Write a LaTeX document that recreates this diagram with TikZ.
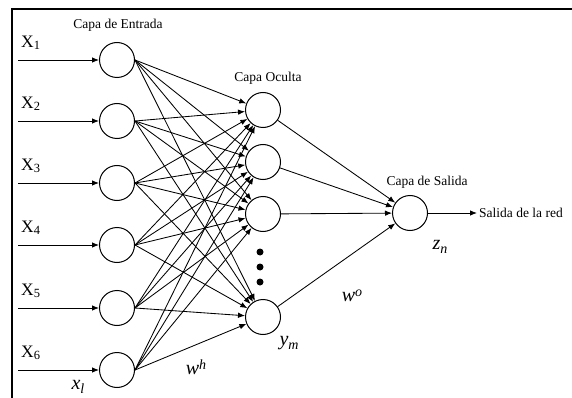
\documentclass[tikz,border=0pt]{standalone}
\usepackage{fontspec}
\setmainfont{Liberation Serif}
\usetikzlibrary{arrows.meta}
\newcommand{\Xlab}[1]{\fontsize{17.5}{18}\selectfont X\raisebox{-2.5pt}{\fontsize{12.5}{12}\selectfont #1}}
\newcommand{\itsub}[2]{\fontsize{20}{20}\selectfont\textit{#1}\raisebox{-4.5pt}{\fontsize{14}{14}\selectfont\textit{#2}}}
\newcommand{\itsup}[2]{\fontsize{20}{20}\selectfont\textit{#1}\raisebox{5.5pt}{\fontsize{14}{14}\selectfont\textit{#2}}}
\begin{document}
\begin{tikzpicture}[x=1pt,y=-1pt,
  neuron/.style={circle,draw,line width=1pt,minimum size=35pt,inner sep=0pt},
  conn/.style={line width=0.85pt,-{Latex[length=7pt,width=5.5pt]}},
  layerlab/.style={font=\fontsize{13.5}{15}\selectfont},
  every node/.style={inner sep=0pt}]
\useasboundingbox (0,0) rectangle (572,398);
\draw[line width=2.5pt] (12,398) -- (12,9) -- (572,9);
% input layer
\foreach \i/\y in {1/60,2/121,3/183,4/245,5/308,6/370}{
  \node[neuron] (in\i) at (117,\y) {};
  \coordinate (s\i) at (18,\y);
  \draw[conn] (s\i) -- (in\i);
  \node[anchor=west] (lx\i) at (21,\y-17) {\Xlab{\i}};
}
% hidden layer
\foreach \j/\y in {1/110,2/162,3/214,4/317}{
  \node[neuron] (h\j) at (263,\y) {};
}
\foreach \k/\y in {1/252,2/267,3/282}{
  \node[circle,fill,minimum size=7pt] (dot\k) at (260,\y) {};
}
% output
\node[neuron] (out) at (410,213) {};
% input -> hidden
\foreach \i in {1,...,6}{
  \foreach \j in {1,...,4}{
    \draw[conn] (in\i.east) -- (h\j);
  }
}
% hidden -> output
\foreach \j in {1,...,4}{
  \draw[conn] (h\j) -- (out);
}
\coordinate (oend) at (477,213);
\draw[conn] (out.east) -- (oend);
\node[anchor=west,font=\fontsize{13.5}{15}\selectfont] (outlab) at (479,213) {Salida de la red};
% layer labels
\node[layerlab] (capain) at (118,25) {Capa de Entrada};
\node[layerlab] (capahid) at (268,78) {Capa Oculta};
\node[layerlab] (capaout) at (427,182) {Capa de Salida};
% symbols
\node (xl) at (78,387) {\itsub{x}{l}};
\node (ym) at (289,343) {\itsub{y}{m}};
\node (zn) at (440,247) {\itsub{z}{n}};
\node (wh) at (196,367) {\itsup{w}{h}};
\node (wo) at (352,296) {\itsup{w}{o}};
\end{tikzpicture}
\end{document}
